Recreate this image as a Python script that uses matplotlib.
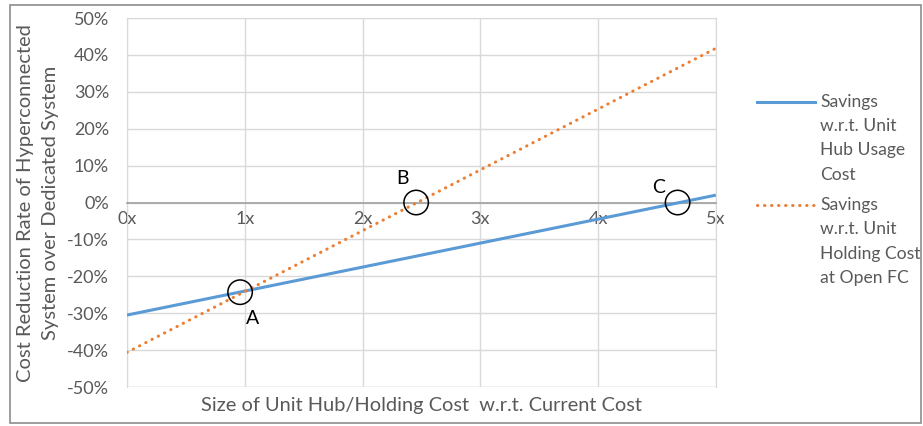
import matplotlib.pyplot as plt
from matplotlib.lines import Line2D
from matplotlib.patches import Rectangle
from matplotlib.ticker import FuncFormatter

plt.rcParams['font.family'] = ['Lato', 'DejaVu Sans']

# endpoints of the two savings lines (x = size multiple, y = % reduction)
x_vals = [0, 5]
hub_savings = [-30.5, 2.0]
holding_savings = [-40.6, 41.8]

# marked points
point_names = ['A', 'B', 'C']
point_x = [0.96, 2.455, 4.675]
point_y = [-24.3, 0.0, 0.0]
label_offsets = [(9, -19), (-10, 17), (-14, 11)]

x_ticks = [0, 1, 2, 3, 4, 5]
y_ticks = list(range(-50, 51, 10))

hub_label = ['Savings', 'w.r.t. Unit', 'Hub Usage', 'Cost']
holding_label = ['Savings', 'w.r.t. Unit', 'Holding Cost', 'at Open FC']

blue = '#5B9BD5'
orange = '#ED7D31'
text_gray = '#595959'
grid_gray = '#D9D9D9'
dotted = (0, (0.1, 2.2))

W, H = 923, 426
fig = plt.figure(figsize=(W / 100, H / 100), dpi=100)
ax = fig.add_axes([0.1376, 0.0915, 0.638, 0.8662])

ax.plot(x_vals, hub_savings, color=blue, lw=2.2, solid_capstyle='butt', zorder=3)
ax.plot(x_vals, holding_savings, color=orange, lw=2.2,
        linestyle=dotted, dash_capstyle='round', zorder=3)

ax.scatter(point_x, point_y, s=310, facecolors='none', edgecolors='black',
           linewidths=1.1, zorder=4)
for name, px, py, off in zip(point_names, point_x, point_y, label_offsets):
    ax.annotate(name, (px, py), xytext=off, textcoords='offset points',
                ha='center', va='center', fontsize=14, color='black')

ax.set_xlim(0, 5)
ax.set_ylim(-50, 50)
ax.set_xticks(x_ticks)
ax.set_yticks(y_ticks)
ax.xaxis.set_major_formatter(FuncFormatter(lambda v, p: f'{int(v)}x'))
ax.yaxis.set_major_formatter(FuncFormatter(lambda v, p: f'{int(v)}%'))
ax.tick_params(length=0, labelsize=13, labelcolor=text_gray)
ax.tick_params(axis='x', pad=6)
ax.tick_params(axis='y', pad=13)
ax.grid(True, color=grid_gray, lw=1)
ax.set_axisbelow(True)

for side in ['top', 'right', 'left']:
    ax.spines[side].set_color(grid_gray)
ax.spines['bottom'].set_position(('data', 0))
ax.spines['bottom'].set_color('#A6A6A6')
ax.spines['bottom'].set_linewidth(1.3)
ax.spines['bottom'].set_zorder(2.5)
# bottom edge of the plot area
ax.axhline(-50, color=grid_gray, lw=1, zorder=0.5)

fig.text(0.041, 0.523, 'Cost Reduction Rate of Hyperconnected\nSystem over Dedicated System',
         rotation=90, ha='center', va='center', fontsize=14.5, color=text_gray,
         linespacing=1.55)
fig.text(0.457, 0.049, 'Size of Unit Hub/Holding Cost  w.r.t. Current Cost',
         ha='center', va='center', fontsize=14.4, color=text_gray)

# legend on the right: handle beside the first text line, lines 24.4 px apart
for lines, style, color, y0 in [(hub_label, '-', blue, 101.7),
                                 (holding_label, dotted, orange, 205.0)]:
    fig.add_artist(Line2D([757 / W, 815 / W], [1 - y0 / H, 1 - y0 / H], color=color,
                          lw=2.2, linestyle=style, dash_capstyle='round',
                          transform=fig.transFigure))
    for i, line in enumerate(lines):
        fig.text(820 / W, 1 - (y0 + 24.4 * i) / H, line, ha='left', va='center',
                 fontsize=12.6, color=text_gray)

# outer chart frame
fig.add_artist(Rectangle((0.0103, 0.007), 0.988, 0.982, fill=False,
                         edgecolor='#8C8C8C', lw=1.2, transform=fig.transFigure))

fig.savefig('out.png', dpi=100)
